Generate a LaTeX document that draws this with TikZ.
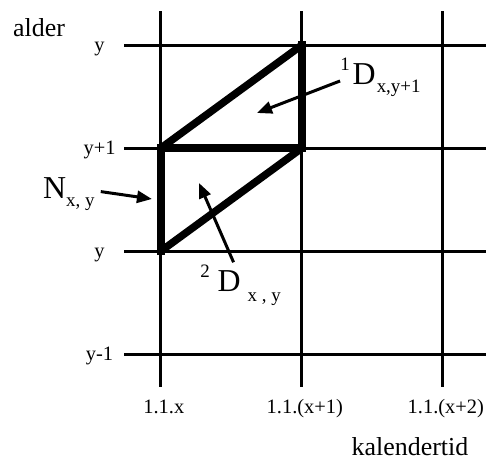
\documentclass[tikz,border=0pt]{standalone}
\usepackage{fontspec}
\setmainfont{Liberation Serif}
\usetikzlibrary{arrows.meta}
\newcommand{\chiso}[1]{{\fontsize{19}{20}\selectfont #1}}
\begin{document}
\begin{tikzpicture}[x=141bp,y=103bp,>={Triangle[length=15bp,width=12bp]},line join=miter]
	\tikzset{label style/.style={font=\fontsize{20.5}{22}\selectfont,inner sep=0pt},
		axis style/.style={font=\fontsize{26}{28}\selectfont,inner sep=0pt},
		big style/.style={font=\fontsize{32}{34}\selectfont,inner sep=0pt},
		grid line/.style={line width=3bp},
		thick side/.style={line width=7.5bp,line cap=rect},
		thick diag/.style={line width=7.5bp,line cap=butt},
		arrow line/.style={line width=3bp,->}}
	%%Giới hạn lưới
	\def \xmin{-0.262}
	\def \xmax{2.305}
	\def \ymin{-1.320}
	\def \ymax{2.330}
	\useasboundingbox (-1.1418,-2.0388) rectangle (2.3050,2.4369);
	%%Lưới
	\foreach \y in {-1,...,2}
	\draw[grid line] (\xmin,\y)--(\xmax,\y);
	\foreach \x in {0,1,2}
	\draw[grid line] (\x,\ymin)--(\x,\ymax);
	%%Hình bình hành
	\draw[thick diag] (0,1)--(1,2) (0,0)--(1,1);
	\draw[thick side] (1,2)--(1,1) (0,1)--(1,1) (0,1)--(0,0);
	%%Nhãn trục
	\node[axis style,anchor=base west] (alder) at (-1.050,2.087) {alder};
	\node[axis style,anchor=base] (kal) at (1.766,-1.981) {kalendertid};
	\foreach \y/\t/\n in {2/y/ly2,1/y+1/ly1,0/y/ly0,-1/y-1/lym}
	\node[label style,anchor=base] (\n) at (-0.436,\y-0.063) {\t};
	\foreach \x/\t/\n in {0/1.1.x/lx0,1/1.1.(x+1)/lx1,2/1.1.(x+2)/lx2}
	\node[label style,anchor=base] (\n) at (\x+0.02,-1.573) {\t};
	%%Ký hiệu và mũi tên
	\node[big style,anchor=base west] (nxy) at (-0.837,0.505) {N\chiso{\raisebox{-8bp}{x, y}}};
	\node[big style,anchor=base west] (d1) at (1.270,1.612) {\chiso{\raisebox{14bp}{1}}\hspace{3bp}D\hspace{1bp}\chiso{\raisebox{-8bp}{x,y+1}}};
	\node[big style,anchor=base west] (d2) at (0.277,-0.398) {\chiso{\raisebox{14bp}{2}}\hspace{8bp}D\hspace{7bp}\chiso{\raisebox{-10bp}{x , y}}};
	\coordinate (tN) at (-0.064,0.505);
	\coordinate (t1) at (0.681,1.340);
	\coordinate (t2) at (0.270,0.660);
	\draw[arrow line] ([xshift=6bp,yshift=3bp]nxy.east)--(tN);
	\draw[arrow line] ([yshift=4bp]d1.base west)--(t1);
	\draw[arrow line] ([xshift=-7bp,yshift=3bp]d2.north)--(t2);
\end{tikzpicture}
\end{document}
